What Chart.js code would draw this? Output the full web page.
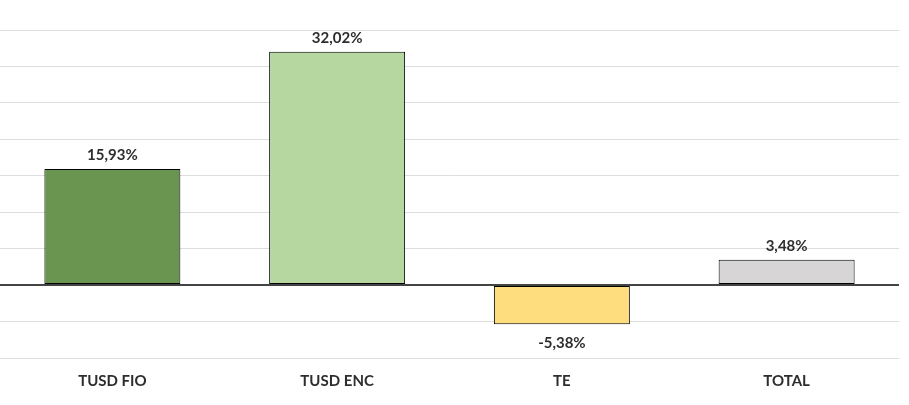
<!DOCTYPE html>
<html>
<head>
<meta charset="utf-8">
<script src="https://cdn.jsdelivr.net/npm/chart.js@4.4.1/dist/chart.umd.min.js"></script>
<style>
  html, body { margin: 0; padding: 0; background: #fff; }
  #wrap { width: 909px; height: 405px; }
</style>
</head>
<body>
<div id="wrap"><canvas id="barChart"></canvas></div>
<script>
// Dados do gráfico
const categorias = ['TUSD FIO', 'TUSD ENC', 'TE', 'TOTAL'];
const valores = [15.93, 32.02, -5.38, 3.48];
const cores = ['#6a9550', '#b7d7a0', '#fedd7f', '#d7d5d6'];
const eixoMin = -10;
const eixoMax = 35;
const passo = 5;

// Rótulos em cima/baixo de cada barra
const rotulosBarras = {
    id: 'rotulosBarras',
    afterDatasetsDraw(chart) {
        const ctx = chart.ctx;
        const meta = chart.getDatasetMeta(0);
        ctx.save();
        ctx.font = 'bold 15px Lato';
        ctx.fillStyle = '#2e2e2e';
        ctx.textAlign = 'center';
        ctx.textBaseline = 'middle';
        meta.data.forEach((bar, i) => {
            const v = valores[i];
            const txt = v.toFixed(2).replace('.', ',') + '%';
            const y = v >= 0 ? bar.y - 14 : bar.y + 19;
            ctx.fillText(txt, bar.x, y);
        });
        ctx.restore();
    }
};

new Chart(document.getElementById('barChart'), {
    type: 'bar',
    data: {
        labels: categorias,
        datasets: [{
            data: valores,
            backgroundColor: cores,
            borderColor: '#000000',
            borderWidth: 1,
            borderSkipped: false,
            categoryPercentage: 1,
            barPercentage: 0.605
        }]
    },
    options: {
        responsive: true,
        maintainAspectRatio: false,
        animation: false,
        layout: { padding: { top: 30, right: 10, left: 0, bottom: 1 } },
        plugins: {
            legend: { display: false },
            tooltip: { enabled: false }
        },
        scales: {
            x: {
                grid: { display: false, drawTicks: false },
                border: { display: false },
                ticks: {
                    padding: 14,
                    color: '#2e2e2e',
                    font: { family: 'Lato', weight: 'bold', size: 15 }
                }
            },
            y: {
                min: eixoMin,
                max: eixoMax,
                border: { display: false },
                grid: {
                    drawTicks: false,
                    color: c => c.tick.value === 0 ? '#444444' : '#dddddd',
                    lineWidth: c => c.tick.value === 0 ? 2 : 1
                },
                ticks: { display: false, stepSize: passo }
            }
        }
    },
    plugins: [rotulosBarras]
});
</script>
</body>
</html>
